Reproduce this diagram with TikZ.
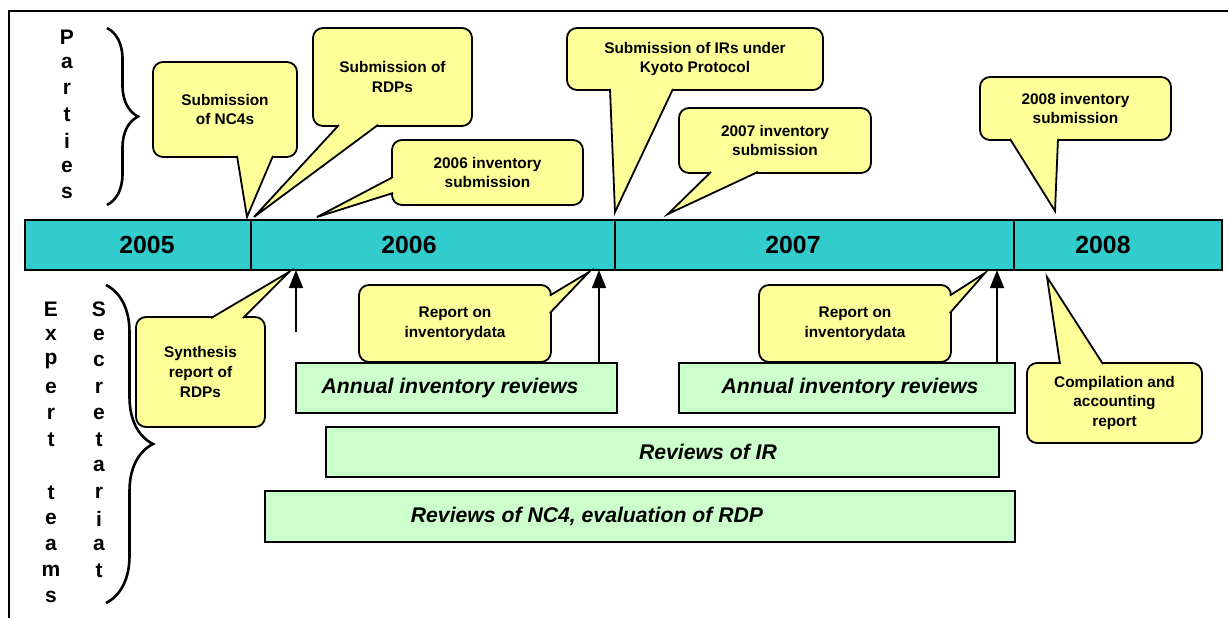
\documentclass[tikz,border=0pt]{standalone}
\usepackage{fontspec}
\setmainfont{Liberation Sans}
\usetikzlibrary{calc,arrows.meta,decorations.pathreplacing}
\definecolor{callyellow}{HTML}{FFFF99}
\definecolor{revgreen}{HTML}{CCFFCC}
\definecolor{barteal}{HTML}{33CCCC}

\begin{document}
\begin{tikzpicture}[x=0.5pt,y=-0.5pt,
    callbox/.style={draw,line width=0.9pt,fill=callyellow,rounded corners=5pt,align=center,inner sep=0pt,
      font=\fontsize{7.7}{9.8}\selectfont\bfseries},
    calltail/.style={draw,line width=0.9pt,fill=callyellow,line join=miter},
    yearcell/.style={draw,line width=0.8pt,fill=barteal,minimum height=25pt,inner sep=0pt,outer sep=0pt},
    yeartext/.style={font=\fontsize{12.4}{14}\selectfont\bfseries,inner sep=0pt},
    revbox/.style={draw,line width=0.9pt,fill=revgreen,inner sep=0pt,outer sep=0pt},
    revtext/.style={font=\fontsize{10.6}{12}\selectfont\bfseries\itshape,inner sep=0pt},
    uparrow/.style={line width=0.8pt,-{Triangle[width=7pt,length=9pt]}},
    sidebrace/.style={decorate,decoration={brace,amplitude=#1},line width=1.3pt},
    letter/.style={font=\fontsize{10.5}{11}\selectfont\bfseries,inner sep=0pt}]
      \useasboundingbox (0,0) rectangle (1228,618);
      \draw[line width=1pt] (9,618) -- (9,11) -- (1228,11);

      \foreach \a/\b/\yr/\lx in {25/251/2005/147, 251/615/2006/409, 615/1014/2007/793, 1014/1222/2008/1103}{
        \node[yearcell,minimum width={(\b-\a)*0.5pt}] (y\yr) at ({(\a+\b)/2},245) {};
        \node[yeartext] (t\yr) at (\lx,245) {\yr};
      }

      \foreach \ch [count=\i] in {P,a,r,t,i,e,s}{
        \node[letter] (pa\i) at (67,{37+26*(\i-1)}) {\ch};
      }
      \foreach \ch/\k in {E/0,x/1,p/2,e/3,r/4,t/5,t/7,e/8,a/9,m/10,s/11}{
        \node[letter] (ex\k) at (51,{309+26.2*\k}) {\ch};
      }
      \foreach \ch [count=\i] in {S,e,c,r,e,t,a,r,i,a,t}{
        \node[letter] (se\i) at (99,{309+26.2*(\i-1)}) {\ch};
      }
      \draw[sidebrace=15.5pt] (107,28) -- (107,205);
      \draw[sidebrace=23.5pt] (106,285) -- (106,603);

      \node[callbox,minimum width=72pt,minimum height=47.5pt] (nc4) at (225,109.5) {Submission\\of NC4s};
      \node[callbox,minimum width=79.5pt,minimum height=49pt] (rdp) at (392.5,77) {Submission of\\RDPs};
      \node[callbox,minimum width=95.5pt,minimum height=32.5pt] (inv6) at (487.5,172.5) {2006 inventory\\submission};
      \node[callbox,minimum width=128pt,minimum height=31pt] (kyoto) at (695,59) {Submission of IRs under\\Kyoto Protocol};
      \node[callbox,minimum width=96pt,minimum height=32.5pt] (inv7) at (775,140.5) {2007 inventory\\submission};
      \node[callbox,minimum width=95.5pt,minimum height=31.5pt] (inv8) at (1075.5,108.5) {2008 inventory\\submission};
      \node[callbox,minimum width=64.5pt,minimum height=55pt] (synth) at (200.5,372) {Synthesis\\report of\\RDPs};
      \node[callbox,minimum width=96pt,minimum height=38.5pt] (rep1) at (455,323.5) {Report on\\inventorydata};
      \node[callbox,minimum width=96pt,minimum height=38.5pt] (rep2) at (855,323.5) {Report on\\inventorydata};
      \node[callbox,minimum width=87.5pt,minimum height=40pt] (comp) at (1114.5,403) {Compilation and\\accounting\\report};

      \coordinate (nc4tip) at (247,217);
      \coordinate (rdptip) at (254,217);
      \coordinate (inv6tip) at (317,217);
      \coordinate (kyototip) at (615,212);
      \coordinate (inv7tip) at (668,214);
      \coordinate (inv8tip) at (1055,211);
      \coordinate (synthtip) at (289,272);
      \coordinate (rep1tip) at (589,272);
      \coordinate (rep2tip) at (985,273);
      \coordinate (comptip) at (1047,277);

      \filldraw[calltail] ($(nc4.south)+(12,-2)$) -- (nc4tip) -- ($(nc4.south)+(48,-2)$);
      \filldraw[calltail] ($(rdp.south)+(-53.5,-2)$) -- (rdptip) -- ($(rdp.south)+(-14.5,-2)$);
      \filldraw[calltail] ($(inv6.west)+(2,4.5)$) -- (inv6tip) -- ($(inv6.west)+(2,20.5)$);
      \filldraw[calltail] ($(kyoto.south)+(-85,-2)$) -- (kyototip) -- ($(kyoto.south)+(-22,-2)$);
      \filldraw[calltail] ($(inv7.south)+(-64,-2)$) -- (inv7tip) -- ($(inv7.south)+(-17,-2)$);
      \filldraw[calltail] ($(inv8.south)+(-65.5,-2)$) -- (inv8tip) -- ($(inv8.south)+(-17.5,-2)$);
      \filldraw[calltail] ($(synth.north)+(10.5,2)$) -- (synthtip) -- ($(synth.north)+(42.5,2)$);
      \filldraw[calltail] ($(rep1.east)+(-2,-28)$) -- (rep1tip) -- ($(rep1.east)+(-2,-10.5)$);
      \filldraw[calltail] ($(rep2.east)+(-2,-28)$) -- (rep2tip) -- ($(rep2.east)+(-2,-10.5)$);
      \filldraw[calltail] ($(comp.north)+(-54.5,2)$) -- (comptip) -- ($(comp.north)+(-11.5,2)$);

      \node[revbox,minimum width=160.5pt,minimum height=25pt] (air1) at (456.5,388) {};
      \node[revtext] (air1t) at (450,388) {Annual inventory reviews};
      \node[revbox,minimum width=168pt,minimum height=25pt] (air2) at (847,388) {};
      \node[revtext] (air2t) at (850,388) {Annual inventory reviews};
      \node[revbox,minimum width=336.5pt,minimum height=25pt] (irrev) at (662.5,452) {};
      \node[revtext] (irrevt) at (708,452) {Reviews of IR};
      \node[revbox,minimum width=375pt,minimum height=25.5pt] (ncrev) at (640,516.5) {};
      \node[revtext] (ncrevt) at (587,516.5) {Reviews of NC4, evaluation of RDP};

      \coordinate (a1) at (296,332);
      \coordinate (a2) at ($(air1.north east)+(-18,0)$);
      \coordinate (a3) at ($(air2.north east)+(-18,0)$);
      \draw[uparrow] (a1) -- (a1 |- y2006.south);
      \draw[uparrow] (a2) -- (a2 |- y2006.south);
      \draw[uparrow] (a3) -- (a3 |- y2007.south);
\end{tikzpicture}
\end{document}
